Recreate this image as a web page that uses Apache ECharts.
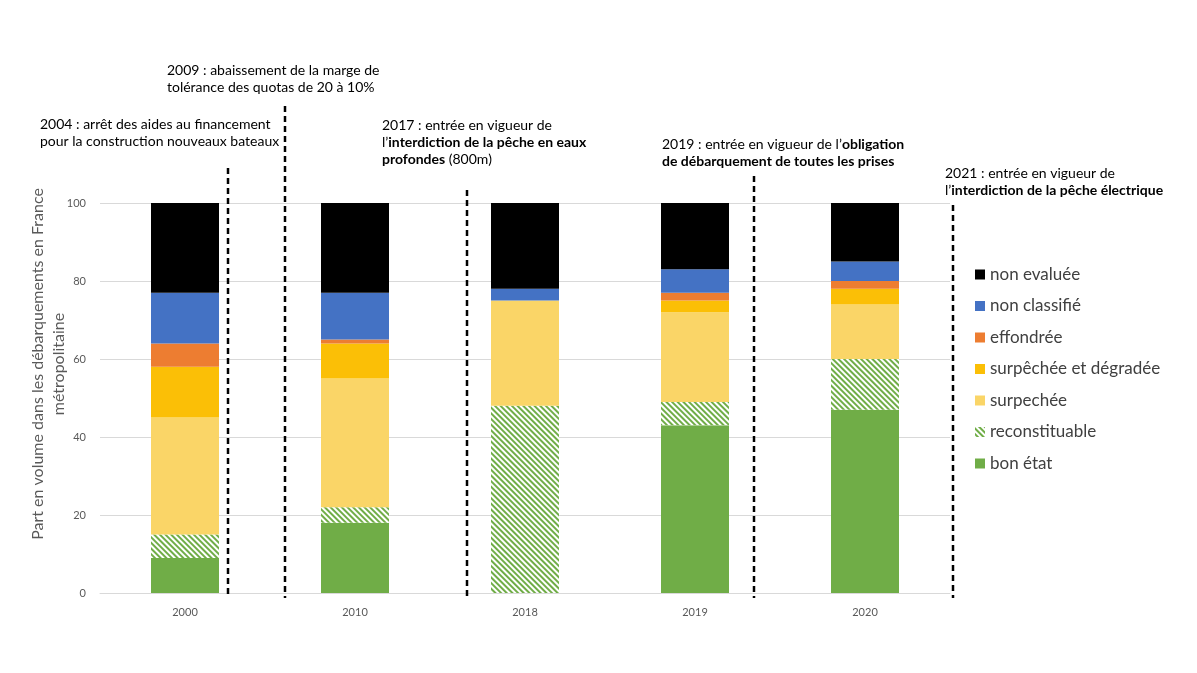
<!DOCTYPE html>
<html>
<head>
<meta charset="utf-8">
<script src="https://cdn.jsdelivr.net/npm/echarts@6/dist/echarts.min.js"></script>
<style>
  html, body { margin: 0; padding: 0; background: #fff; }
  #chart { width: 1197px; height: 673px; }
</style>
</head>
<body>
<div id="chart"></div>
<script>
// années (catégories)
var annees = ['2000', '2010', '2018', '2019', '2020'];
var yTicks = [0, 20, 40, 60, 80, 100];

// parts en volume (%), du bas vers le haut de la pile
var bonEtat        = [9, 18, 0, 43, 47];
var reconstituable = [6, 4, 48, 6, 13];
var surpechee      = [30, 33, 27, 23, 14];
var surpDegradee   = [13, 9, 0, 3, 4];
var effondree      = [6, 1, 0, 2, 2];
var nonClassifie   = [13, 12, 3, 6, 5];
var nonEvaluee     = [23, 23, 22, 17, 15];

var legendOrdre = ['non evaluée', 'non classifié', 'effondrée', 'surpêchée et dégradée',
                   'surpechée', 'reconstituable', 'bon état'];

var police = 'Lato, "Open Sans", sans-serif';

function barre(nom, data, couleur, extra) {
	var s = {
		name: nom,
		type: 'bar',
		stack: 'total',
		barWidth: '40%',
		data: data,
		itemStyle: { color: couleur }
	};
	if (extra) {
		for (var k in extra) s[k] = extra[k];
	}
	return s;
}

var hachures = {
	symbol: 'rect',
	symbolSize: 1,
	dashArrayX: [1, 0],
	dashArrayY: [2, 2],
	rotation: Math.PI / 4,
	color: '#70ad47'
};

// annotations (texte + lignes pointillées)
function ligne(x, y1, y2) {
	return {
		type: 'line',
		shape: { x1: x, y1: y1, x2: x, y2: y2 },
		style: { stroke: '#000', lineWidth: 2.5, lineDash: [6, 4] },
		z: 10
	};
}
function texte(x, y, t) {
	return {
		type: 'text',
		left: x, top: y,
		style: {
			text: t,
			fontFamily: police,
			fontSize: 14,
			lineHeight: 17,
			fill: '#000',
			rich: {
				b: { fontFamily: police, fontSize: 14, fontWeight: 'bold', lineHeight: 17, fill: '#000' }
			}
		},
		z: 10
	};
}

var chart = echarts.init(document.getElementById('chart'));
var option = {
	backgroundColor: '#fff',
	animation: false,
	grid: { left: 100, right: 247, top: 203, bottom: 80 },
	legend: {
		orient: 'vertical',
		left: 970,
		top: 261,
		itemWidth: 10,
		itemHeight: 10,
		itemGap: 14.5,
		icon: 'rect',
		data: legendOrdre,
		textStyle: { fontFamily: police, fontSize: 17, color: '#404040' }
	},
	xAxis: {
		type: 'category',
		data: annees,
		axisLine: { lineStyle: { color: '#d9d9d9' } },
		axisTick: { show: false },
		axisLabel: { color: '#595959', fontFamily: police, fontSize: 11, margin: 14 }
	},
	yAxis: {
		type: 'value',
		min: 0,
		max: 100,
		interval: 20,
		axisLine: { show: false },
		axisTick: { show: false },
		splitLine: { lineStyle: { color: '#d9d9d9' } },
		axisLabel: { color: '#595959', fontFamily: police, fontSize: 11, margin: 14 }
	},
	series: [
		barre('bon état', bonEtat, '#70ad47'),
		barre('reconstituable', reconstituable, '#ffffff', {
			itemStyle: { color: '#ffffff', decal: hachures }
		}),
		barre('surpechée', surpechee, '#fad567'),
		barre('surpêchée et dégradée', surpDegradee, '#fbbf06'),
		barre('effondrée', effondree, '#ed7d31'),
		barre('non classifié', nonClassifie, '#4472c4'),
		barre('non evaluée', nonEvaluee, '#000000')
	],
	graphic: [
		{
			type: 'text',
			x: 48, y: 364,
			rotation: Math.PI / 2,
			style: {
				text: 'Part en volume dans les débarquements en France\nmétropolitaine',
				fontFamily: police,
				fontSize: 16,
				lineHeight: 21,
				fill: '#595959',
				align: 'center',
				verticalAlign: 'middle'
			}
		},
		ligne(228, 168, 598),
		ligne(285, 106, 598),
		ligne(467, 190, 598),
		ligne(754, 176, 598),
		ligne(953, 205, 598),
		texte(167, 62, '2009 : abaissement de la marge de\ntolérance des quotas de 20 à 10%'),
		texte(40, 116, '2004 : arrêt des aides au financement\npour la construction nouveaux bateaux'),
		texte(382, 117, '2017 : entrée en vigueur de\nl\u2019{b|interdiction de la pêche en eaux}\n{b|profondes} (800m)'),
		texte(662, 136, '2019 : entrée en vigueur de l\u2019{b|obligation}\n{b|de débarquement de toutes les prises}'),
		texte(945, 165, '2021 : entrée en vigueur de\nl\u2019{b|interdiction de la pêche électrique}')
	]
};
chart.setOption(option);
</script>
</body>
</html>
